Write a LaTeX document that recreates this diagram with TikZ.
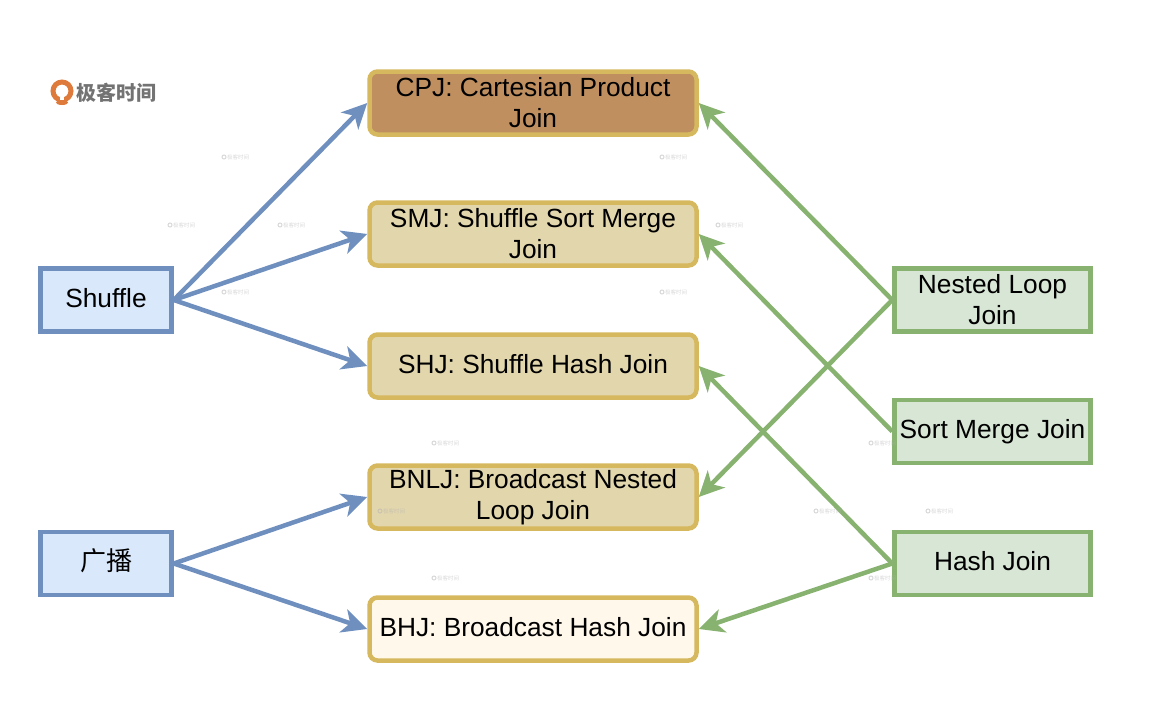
\documentclass[tikz,border=0pt]{standalone}
\usepackage{fontspec}
\setmainfont{Liberation Sans}
\newfontfamily\cjk{Noto Sans CJK SC}
\usetikzlibrary{arrows.meta}
\definecolor{bluefill}{HTML}{DAE8FC}
\definecolor{blueline}{HTML}{6F8FBF}
\definecolor{greenfill}{HTML}{D8E7D5}
\definecolor{greenline}{HTML}{88B270}
\definecolor{goldline}{HTML}{D6B85F}
\definecolor{goldfill}{HTML}{E2D6AC}
\definecolor{brownfill}{HTML}{BF8F60}
\definecolor{creamfill}{HTML}{FFF8EB}
\definecolor{logoorange}{HTML}{DE7B3C}
\tikzset{
	boxtext/.style={font=\fontsize{26.3}{31}\selectfont,text=black,align=center,line width=4.5pt,inner sep=0pt},
	oneline/.style={text height=19pt,text depth=4.5pt},
	sidebox/.style={boxtext,minimum width=131pt,minimum height=63pt},
	shufflebox/.style={sidebox,draw=blueline,fill=bluefill},
	joinbox/.style={sidebox,draw=greenline,fill=greenfill,minimum width=196pt},
	strategy/.style={boxtext,draw=goldline,fill=goldfill,rounded corners=8pt,minimum width=327pt,minimum height=63pt},
	bluearrow/.style={draw=blueline,line width=4.5pt,-{Stealth[length=25pt,width=24pt,inset=7pt]}},
	greenarrow/.style={draw=greenline,line width=4.5pt,-{Stealth[length=25pt,width=24pt,inset=7pt]}},
	faintmark/.style={font=\cjk\fontsize{5.5}{5.5}\selectfont,text=black!30,inner sep=0pt,opacity=0.5}
}
\begin{document}
\begin{tikzpicture}[x=1pt,y=-1pt]
	\useasboundingbox (0,0) rectangle (1168,712);
	% logo
	\fill[logoorange] (62,102.5) ellipse (6pt and 2.5pt);
	\draw[logoorange,line width=5pt] (62,91) circle (9pt);
	\fill[white] (60,90) rectangle (64,100);
	\node[font=\cjk\bfseries\fontsize{20}{20}\selectfont,text=black!55,inner sep=0pt] (logotext) at (116.5,93) {极客时间};
	% middle column
	\node[strategy,fill=brownfill] (cpj) at (533,103) {CPJ: Cartesian Product\\Join};
	\node[strategy] (smj) at (533,234) {SMJ: Shuffle Sort Merge\\Join};
	\node[strategy,oneline] (shj) at (533,366) {SHJ: Shuffle Hash Join};
	\node[strategy] (bnlj) at (533,497) {BNLJ: Broadcast Nested\\Loop Join};
	\node[strategy,oneline,fill=creamfill] (bhj) at (533,629) {BHJ: Broadcast Hash Join};
	% left column
	\node[shufflebox,oneline] (shuffle) at (106,300) {Shuffle};
	\node[shufflebox,oneline,font=\cjk\fontsize{26}{31}\selectfont] (broadcast) at (106,563.5) {广播};
	% right column
	\node[joinbox] (nested) at (992.5,300) {Nested Loop\\Join};
	\node[joinbox,oneline] (sortmerge) at (992.5,431.5) {Sort Merge Join};
	\node[joinbox,oneline] (hash) at (992.5,563.5) {Hash Join};
	% arrows
	\foreach \a in {cpj,smj,shj}{
		\draw[bluearrow] (shuffle.east) -- (\a.west);}
	\foreach \a in {bnlj,bhj}{
		\draw[bluearrow] (broadcast.east) -- (\a.west);}
	\foreach \a/\b in {nested/cpj,nested/bnlj,sortmerge/smj,hash/shj,hash/bhj}{
		\draw[greenarrow] (\a.west) -- (\b.east);}
	% small marks on top
	\foreach \x/\y in {238/157,184/225,294/225,238/292,676/157,732/225,676/292,448/443,394/511,448/578,885/443,830/511,942/511,885/578}{
		\node[faintmark] (m\x\y) at (\x,\y) {极客时间};
		\draw[black!30,opacity=0.5,line width=1pt] (\x-14,\y) circle (2pt);}
\end{tikzpicture}
\end{document}
